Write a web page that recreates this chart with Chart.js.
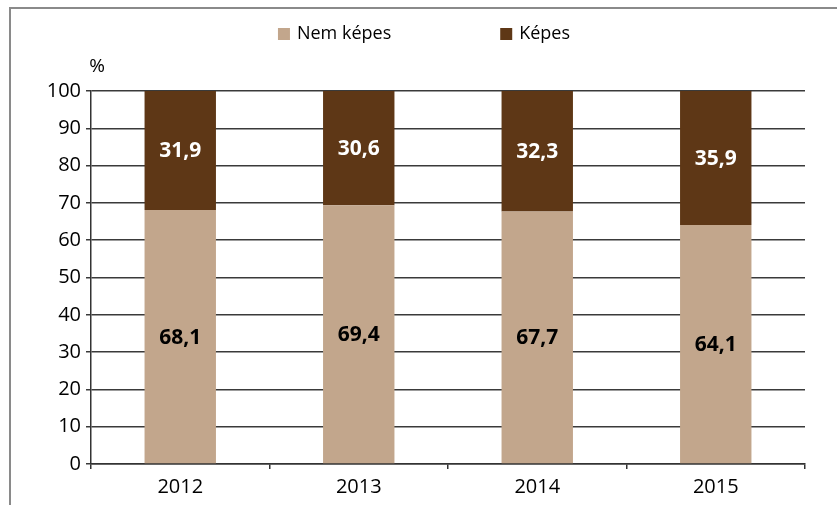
<!DOCTYPE html>
<html>
<head>
<meta charset="utf-8">
<script src="https://cdn.jsdelivr.net/npm/chart.js@4"></script>
<style>
  html, body { margin: 0; padding: 0; background: #fff; overflow: hidden; }
  #wrap { position: relative; width: 837px; height: 505px; }
  #frame { position: absolute; left: 9px; top: 7px; width: 900px; height: 600px;
           border-top: 2px solid #8a8a8a; border-left: 2px solid #8a8a8a; pointer-events: none; }
</style>
</head>
<body>
<div id="wrap">
  <canvas id="myChart" width="837" height="505"></canvas>
  <div id="frame"></div>
</div>
<script>
const years = ['2012', '2013', '2014', '2015'];
const nemKepes = [68.1, 69.4, 67.7, 64.1];
const kepes = [31.9, 30.6, 32.3, 35.9];
const yTicks = [0, 10, 20, 30, 40, 50, 60, 70, 80, 90, 100];

const FONT = '"Open Sans", "Noto Sans", sans-serif';

// value labels in the middle of each segment, with decimal comma
const barLabels = {
  id: 'barLabels',
  afterDatasetsDraw(chart) {
    const ctx = chart.ctx;
    ctx.save();
    ctx.font = 'bold 21px ' + FONT;
    ctx.textAlign = 'center';
    ctx.textBaseline = 'middle';
    chart.data.datasets.forEach(function(ds, i) {
      chart.getDatasetMeta(i).data.forEach(function(bar, j) {
        const p = bar.getProps(['x', 'y', 'base'], true);
        ctx.fillStyle = ds.labelColor;
        ctx.fillText(ds.data[j].toFixed(1).replace('.', ','), p.x, (p.y + p.base) / 2 + 1);
      });
    });
    ctx.restore();
  }
};

// legend row and the % unit above the y axis
const extras = {
  id: 'extras',
  afterDraw(chart) {
    const ctx = chart.ctx;
    const area = chart.chartArea;
    ctx.save();
    ctx.font = '18px ' + FONT;
    ctx.textBaseline = 'middle';
    const box = 12, gap = 7, spacing = 109;
    const items = chart.data.datasets.map(function(ds) {
      return { text: ds.label, color: ds.backgroundColor, w: box + gap + ctx.measureText(ds.label).width };
    });
    const total = items.reduce(function(s, it) { return s + it.w; }, 0) + spacing * (items.length - 1);
    let x = 424 - total / 2;
    const y = 34;
    items.forEach(function(it) {
      ctx.fillStyle = it.color;
      ctx.fillRect(x, y - box / 2, box, box);
      ctx.fillStyle = '#000';
      ctx.fillText(it.text, x + box + gap, y);
      x += it.w + spacing;
    });
    ctx.font = '19px ' + FONT;
    ctx.textAlign = 'center';
    ctx.fillText('%', area.left + 6, area.top - 24);
    ctx.restore();
  }
};

const ctx = document.getElementById('myChart').getContext('2d');
const myChart = new Chart(ctx, {
  type: 'bar',
  data: {
    labels: years,
    datasets: [{
      label: 'Nem képes',
      data: nemKepes,
      backgroundColor: '#c2a68c',
      labelColor: '#000'
    }, {
      label: 'Képes',
      data: kepes,
      backgroundColor: '#5e3716',
      labelColor: '#fff'
    }]
  },
  options: {
    responsive: false,
    animation: false,
    layout: { padding: { left: 0, right: 32, top: 91, bottom: 0 } },
    datasets: { bar: { categoryPercentage: 1, barPercentage: 0.4 } },
    plugins: {
      legend: { display: false },
      tooltip: { enabled: false }
    },
    scales: {
      x: {
        stacked: true,
        afterFit(scale) { scale.height = 41; },
        grid: { drawOnChartArea: false, drawTicks: true, tickLength: 5, offset: true, color: '#333', lineWidth: 1.5 },
        border: { color: '#333', width: 1.5 },
        ticks: { color: '#000', font: { family: FONT, size: 20 }, padding: 6 }
      },
      y: {
        stacked: true,
        min: 0,
        max: 100,
        afterFit(scale) { scale.width = 91; },
        afterBuildTicks(scale) { scale.ticks = yTicks.map(function(v) { return { value: v }; }); },
        grid: { color: '#3a3a3a', lineWidth: 1.5, tickLength: 5 },
        border: { color: '#333', width: 1.5 },
        ticks: { color: '#000', font: { family: FONT, size: 20 }, padding: 5 }
      }
    }
  },
  plugins: [barLabels, extras]
});
</script>
</body>
</html>
